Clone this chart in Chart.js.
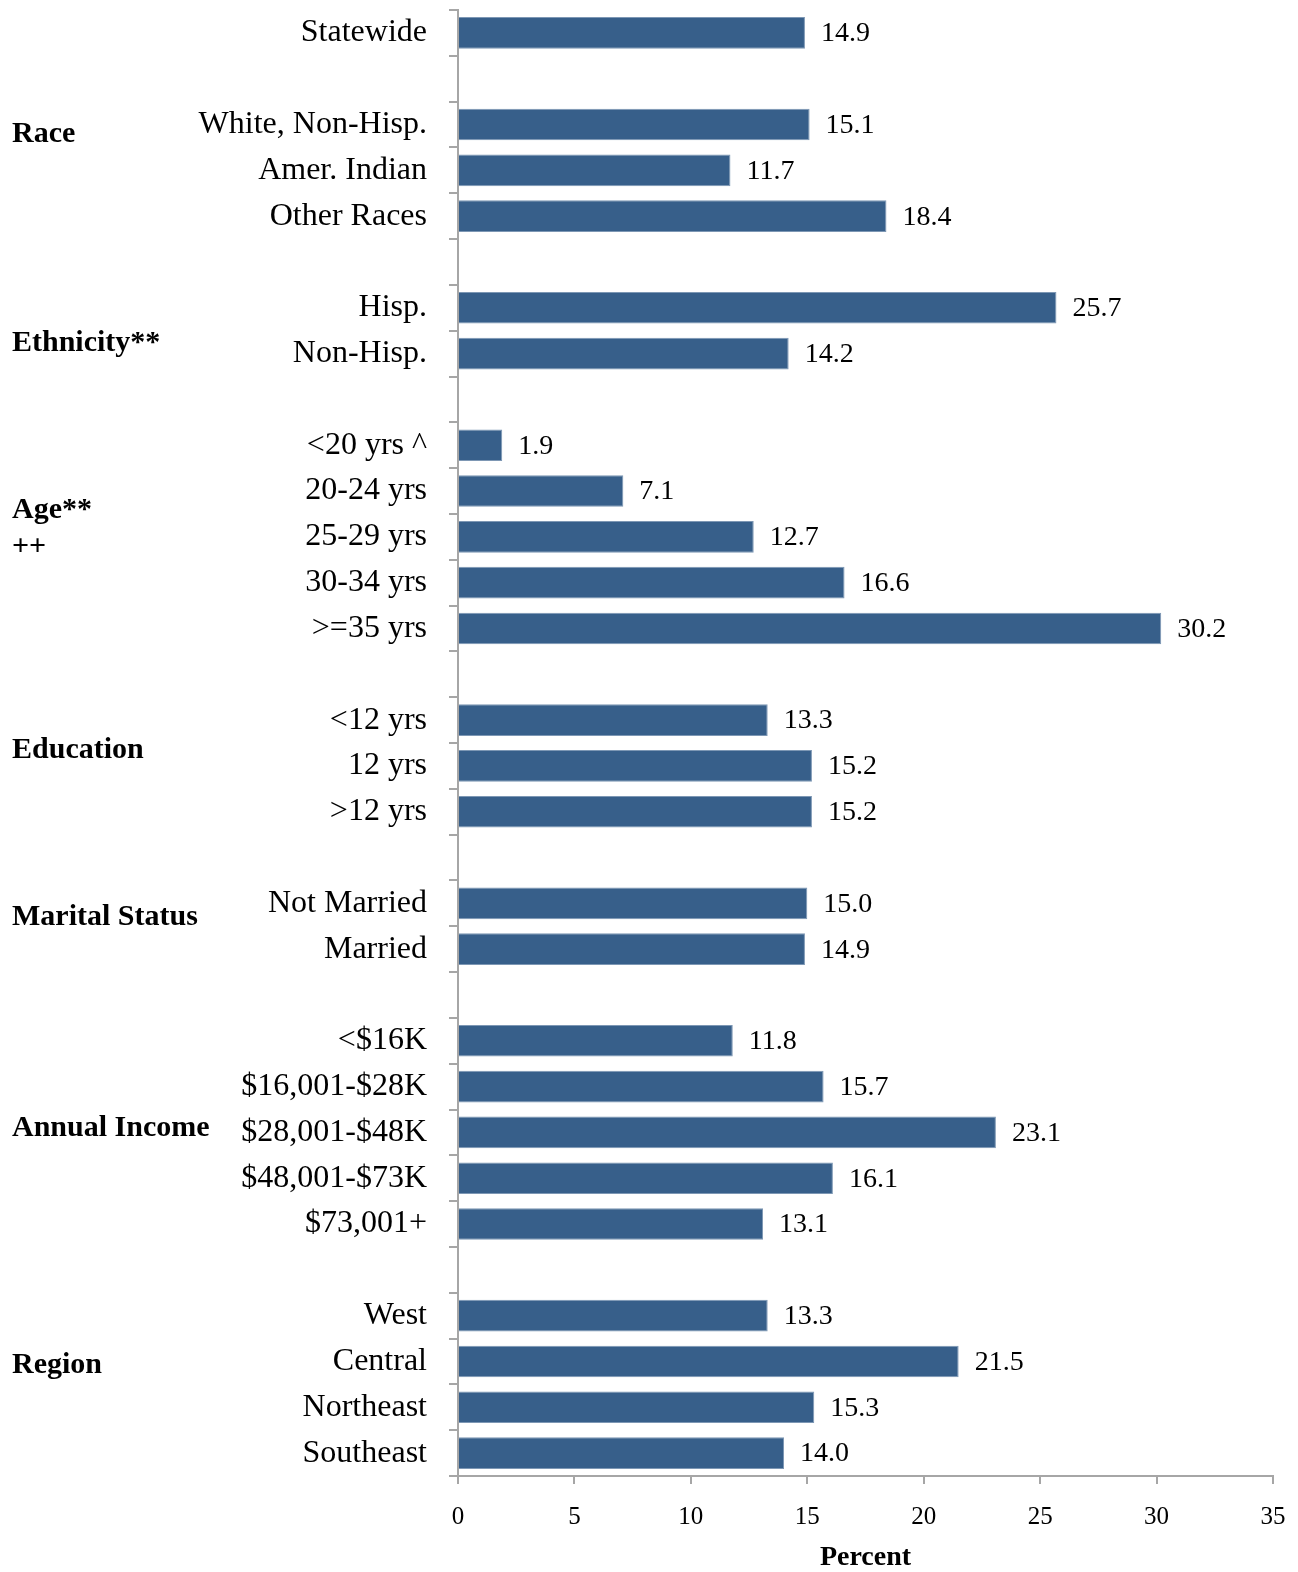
<!DOCTYPE html>
<html lang="en">
<head>
    <meta charset="UTF-8">
    <title>Percent by group</title>
    <script src="https://cdn.jsdelivr.net/npm/chart.js"></script>
    <style>
        body {
            margin: 0;
            padding: 0;
            background-color: #fff;
            overflow: hidden;
        }
        canvas {
            display: block;
        }
    </style>
</head>
<body>
    <canvas id="groupChart" width="1298" height="1572"></canvas>

    <script>
        // Values, one small array per group
        const statewideLabels = ['Statewide'];
        const statewideValues = [14.9];
        const raceLabels = ['White, Non-Hisp.', 'Amer. Indian', 'Other Races'];
        const raceValues = [15.1, 11.7, 18.4];
        const ethnicityLabels = ['Hisp.', 'Non-Hisp.'];
        const ethnicityValues = [25.7, 14.2];
        const ageLabels = ['<20 yrs ^', '20-24 yrs', '25-29 yrs', '30-34 yrs', '>=35 yrs'];
        const ageValues = [1.9, 7.1, 12.7, 16.6, 30.2];
        const educationLabels = ['<12 yrs', '12 yrs', '>12 yrs'];
        const educationValues = [13.3, 15.2, 15.2];
        const maritalLabels = ['Not Married', 'Married'];
        const maritalValues = [15.0, 14.9];
        const incomeLabels = ['<$16K', '$16,001-$28K', '$28,001-$48K', '$48,001-$73K', '$73,001+'];
        const incomeValues = [11.8, 15.7, 23.1, 16.1, 13.1];
        const regionLabels = ['West', 'Central', 'Northeast', 'Southeast'];
        const regionValues = [13.3, 21.5, 15.3, 14.0];

        const xTicks = [0, 5, 10, 15, 20, 25, 30, 35];

        // Bold group names on the far left, with their slot position on the y scale
        const groupNames = ['Race', 'Ethnicity**', 'Age**', '++', 'Education', 'Marital Status', 'Annual Income', 'Region'];
        const groupNamePos = [2.21, 6.77, 10.42, 11.23, 15.65, 19.31, 23.9, 29.09];

        // Flatten groups into one category list with an empty slot between groups
        const groupLabelLists = [statewideLabels, raceLabels, ethnicityLabels, ageLabels, educationLabels, maritalLabels, incomeLabels, regionLabels];
        const groupValueLists = [statewideValues, raceValues, ethnicityValues, ageValues, educationValues, maritalValues, incomeValues, regionValues];
        const labels = [];
        const values = [];
        groupLabelLists.forEach((list, g) => {
            if (g > 0) {
                labels.push('');
                values.push(null);
            }
            list.forEach((lab, i) => {
                labels.push(lab);
                values.push(groupValueLists[g][i]);
            });
        });

        const serif = "'Liberation Serif', 'Times New Roman', serif";
        const axisGray = '#a6a6a6';

        // Draw the value next to the end of each bar
        const valueLabels = {
            id: 'valueLabels',
            afterDatasetsDraw(chart) {
                const ctx = chart.ctx;
                const meta = chart.getDatasetMeta(0);
                ctx.save();
                ctx.font = '28px ' + serif;
                ctx.fillStyle = '#000';
                ctx.textAlign = 'left';
                ctx.textBaseline = 'middle';
                meta.data.forEach((bar, i) => {
                    const v = chart.data.datasets[0].data[i];
                    if (v === null) return;
                    ctx.fillText(v.toFixed(1), bar.x + 16, bar.y + 1);
                });
                ctx.restore();
            }
        };

        // Group names to the left of the category labels
        const groupTitles = {
            id: 'groupTitles',
            afterDraw(chart) {
                const ctx = chart.ctx;
                const yScale = chart.scales.y;
                ctx.save();
                ctx.font = 'bold 30px ' + serif;
                ctx.fillStyle = '#000';
                ctx.textAlign = 'left';
                ctx.textBaseline = 'middle';
                groupNames.forEach((name, i) => {
                    ctx.fillText(name, 12, yScale.getPixelForValue(groupNamePos[i]));
                });
                ctx.restore();
            }
        };

        const ctxGroup = document.getElementById('groupChart').getContext('2d');
        const groupChart = new Chart(ctxGroup, {
            type: 'bar',
            data: {
                labels: labels,
                datasets: [{
                    data: values,
                    backgroundColor: '#375f8a',
                    borderColor: '#7d97b4',
                    borderWidth: 1,
                    categoryPercentage: 1,
                    barPercentage: 0.69
                }]
            },
            options: {
                indexAxis: 'y',
                responsive: false,
                animation: false,
                layout: {
                    padding: { top: 10, right: 25, left: 0, bottom: 0 }
                },
                plugins: {
                    legend: { display: false },
                    tooltip: { enabled: false }
                },
                scales: {
                    y: {
                        afterFit(scale) {
                            scale.width = 458;
                            scale.paddingTop = 0;
                            scale.paddingBottom = 0;
                        },
                        grid: {
                            offset: true,
                            drawOnChartArea: false,
                            tickLength: 9,
                            color: axisGray,
                            lineWidth: 2
                        },
                        border: { color: axisGray, width: 2 },
                        ticks: {
                            autoSkip: false,
                            padding: 22,
                            color: '#000',
                            font: { family: serif, size: 32 }
                        }
                    },
                    x: {
                        min: 0,
                        max: 35,
                        afterFit(scale) {
                            scale.height = 96;
                            scale.paddingLeft = 0;
                            scale.paddingRight = 0;
                        },
                        afterBuildTicks(scale) {
                            scale.ticks = xTicks.map(v => ({ value: v }));
                        },
                        grid: {
                            drawOnChartArea: false,
                            tickLength: 8,
                            color: axisGray,
                            lineWidth: 2
                        },
                        border: { color: axisGray, width: 2 },
                        ticks: {
                            padding: 18,
                            color: '#000',
                            font: { family: serif, size: 25 }
                        },
                        title: {
                            display: true,
                            text: 'Percent',
                            color: '#000',
                            padding: { top: 0, bottom: 0 },
                            font: { family: serif, size: 28, weight: 'bold', lineHeight: 1 }
                        }
                    }
                }
            },
            plugins: [valueLabels, groupTitles]
        });
    </script>
</body>
</html>
